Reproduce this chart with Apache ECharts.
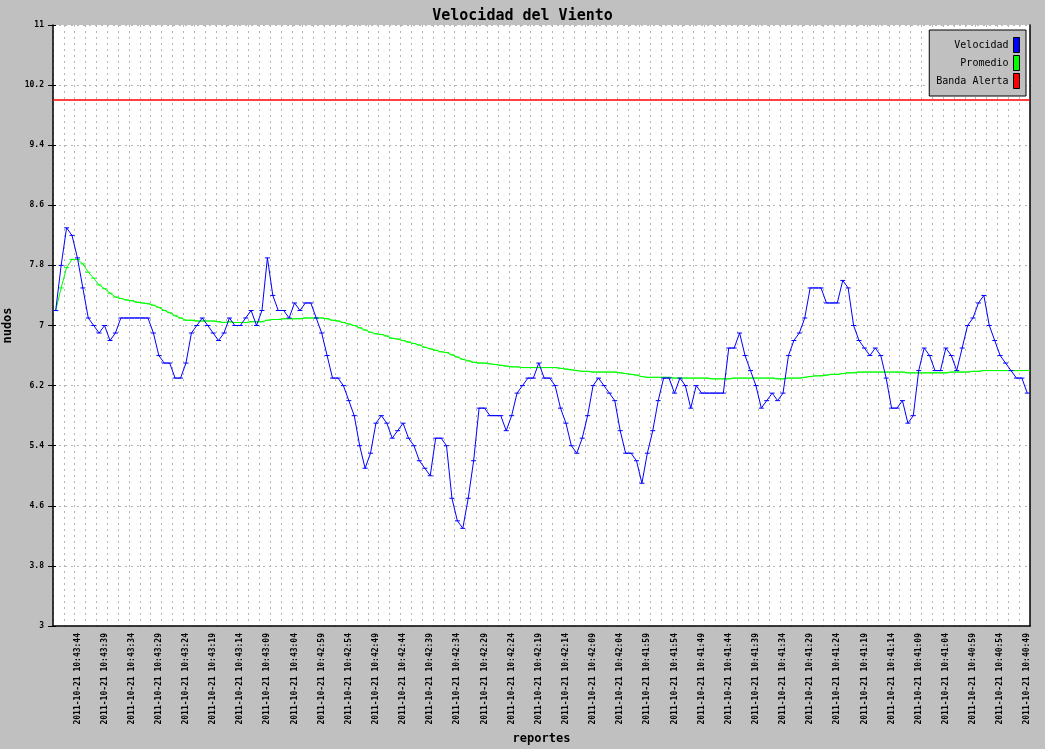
<!DOCTYPE html>
<html>
<head>
<meta charset="utf-8">
<script src="https://cdn.jsdelivr.net/npm/echarts@6/dist/echarts.min.js"></script>
<style>
html,body{margin:0;padding:0;background:#c0c0c0;}
#chart{width:1045px;height:749px;}
</style>
</head>
<body>
<div id="chart"></div>
<script>
// ---- data ----
const reportDate = '2011-10-21';
const reportTimes = [
'10:43:48','10:43:47','10:43:46','10:43:45','10:43:44','10:43:43','10:43:42','10:43:41','10:43:40','10:43:39',
'10:43:38','10:43:37','10:43:36','10:43:35','10:43:34','10:43:33','10:43:32','10:43:31','10:43:30','10:43:29',
'10:43:28','10:43:27','10:43:26','10:43:25','10:43:24','10:43:23','10:43:22','10:43:21','10:43:20','10:43:19',
'10:43:18','10:43:17','10:43:16','10:43:15','10:43:14','10:43:13','10:43:12','10:43:11','10:43:10','10:43:09',
'10:43:08','10:43:07','10:43:06','10:43:05','10:43:04','10:43:03','10:43:02','10:43:01','10:43:00',
'10:42:59','10:42:58','10:42:57','10:42:56','10:42:55','10:42:54','10:42:53','10:42:52','10:42:51','10:42:50',
'10:42:49','10:42:48','10:42:47','10:42:46','10:42:45','10:42:44','10:42:43','10:42:42','10:42:41','10:42:40',
'10:42:39','10:42:38','10:42:37','10:42:36','10:42:35','10:42:34','10:42:33','10:42:32','10:42:31','10:42:30',
'10:42:29','10:42:28','10:42:27','10:42:26','10:42:25','10:42:24','10:42:23','10:42:22','10:42:21','10:42:20',
'10:42:19','10:42:18','10:42:17','10:42:16','10:42:15','10:42:14','10:42:13','10:42:12','10:42:11','10:42:10',
'10:42:09','10:42:08','10:42:07','10:42:06','10:42:05','10:42:04','10:42:03','10:42:02','10:42:01','10:42:00',
'10:41:59','10:41:58','10:41:57','10:41:56','10:41:55','10:41:54','10:41:53','10:41:52','10:41:51','10:41:50',
'10:41:49','10:41:48','10:41:47','10:41:46','10:41:45','10:41:44','10:41:43','10:41:42','10:41:41','10:41:40',
'10:41:39','10:41:38','10:41:37','10:41:36','10:41:35','10:41:34','10:41:33','10:41:32','10:41:31','10:41:30',
'10:41:29','10:41:28','10:41:27','10:41:26','10:41:25','10:41:24','10:41:23','10:41:22','10:41:21','10:41:20',
'10:41:19','10:41:18','10:41:17','10:41:16','10:41:15','10:41:14','10:41:13','10:41:12','10:41:11','10:41:10',
'10:41:09','10:41:08','10:41:07','10:41:06','10:41:05','10:41:04','10:41:03','10:41:02','10:41:01','10:41:00',
'10:40:59','10:40:58','10:40:57','10:40:56','10:40:55','10:40:54','10:40:53','10:40:52','10:40:51','10:40:50',
'10:40:49'
];

const velocidad = [
7.2,7.8,8.3,8.2,7.9,7.5,7.1,7.0,6.9,7.0,
6.8,6.9,7.1,7.1,7.1,7.1,7.1,7.1,6.9,6.6,
6.5,6.5,6.3,6.3,6.5,6.9,7.0,7.1,7.0,6.9,
6.8,6.9,7.1,7.0,7.0,7.1,7.2,7.0,7.2,7.9,
7.4,7.2,7.2,7.1,7.3,7.2,7.3,7.3,7.1,6.9,
6.6,6.3,6.3,6.2,6.0,5.8,5.4,5.1,5.3,5.7,
5.8,5.7,5.5,5.6,5.7,5.5,5.4,5.2,5.1,5.0,
5.5,5.5,5.4,4.7,4.4,4.3,4.7,5.2,5.9,5.9,
5.8,5.8,5.8,5.6,5.8,6.1,6.2,6.3,6.3,6.5,
6.3,6.3,6.2,5.9,5.7,5.4,5.3,5.5,5.8,6.2,
6.3,6.2,6.1,6.0,5.6,5.3,5.3,5.2,4.9,5.3,
5.6,6.0,6.3,6.3,6.1,6.3,6.2,5.9,6.2,6.1,
6.1,6.1,6.1,6.1,6.7,6.7,6.9,6.6,6.4,6.2,
5.9,6.0,6.1,6.0,6.1,6.6,6.8,6.9,7.1,7.5,
7.5,7.5,7.3,7.3,7.3,7.6,7.5,7.0,6.8,6.7,
6.6,6.7,6.6,6.3,5.9,5.9,6.0,5.7,5.8,6.4,
6.7,6.6,6.4,6.4,6.7,6.6,6.4,6.7,7.0,7.1,
7.3,7.4,7.0,6.8,6.6,6.5,6.4,6.3,6.3,6.1
];

const promedio = [
7.20,7.50,7.77,7.88,7.88,7.82,7.71,7.63,7.54,7.49,
7.43,7.38,7.36,7.34,7.33,7.31,7.30,7.29,7.27,7.24,
7.20,7.17,7.13,7.10,7.07,7.07,7.06,7.06,7.06,7.06,
7.05,7.04,7.05,7.04,7.04,7.04,7.05,7.05,7.05,7.07,
7.08,7.08,7.09,7.09,7.09,7.09,7.10,7.10,7.10,7.10,
7.09,7.07,7.06,7.04,7.02,7.00,6.97,6.94,6.91,6.89,
6.88,6.86,6.83,6.82,6.80,6.78,6.76,6.74,6.71,6.69,
6.67,6.65,6.64,6.61,6.58,6.55,6.53,6.51,6.50,6.50,
6.49,6.48,6.47,6.46,6.45,6.45,6.44,6.44,6.44,6.44,
6.44,6.44,6.44,6.43,6.42,6.41,6.40,6.39,6.39,6.38,
6.38,6.38,6.38,6.38,6.37,6.36,6.35,6.34,6.32,6.31,
6.31,6.31,6.31,6.31,6.30,6.30,6.30,6.30,6.30,6.30,
6.30,6.29,6.29,6.29,6.29,6.30,6.30,6.30,6.30,6.30,
6.30,6.30,6.30,6.29,6.29,6.30,6.30,6.30,6.31,6.32,
6.33,6.33,6.34,6.35,6.35,6.36,6.37,6.37,6.38,6.38,
6.38,6.38,6.38,6.38,6.38,6.38,6.38,6.37,6.37,6.37,
6.37,6.37,6.37,6.37,6.37,6.38,6.38,6.38,6.38,6.39,
6.39,6.40,6.40,6.40,6.40,6.40,6.40,6.40,6.40,6.40
];

const alertThreshold = 10.0;
const yMin = 3, yMax = 11, yStep = 0.8;
const seriesNames = ['Velocidad', 'Promedio', 'Banda Alerta'];
const seriesColors = ['#0000ff', '#00ff00', '#ff0000'];

// ---- chart ----
const categories = reportTimes.map(t => reportDate + ' ' + t);
const FONT = "'DejaVu Sans Mono', monospace";
const GRID_LINE = {color: '#b4b4b4', width: 1, type: [2, 4]};
const chart = echarts.init(document.getElementById('chart'), null, {renderer: 'canvas'});

const valueAxisBase = {
  type: 'value', min: yMin, max: yMax, interval: yStep
};

chart.setOption({
  animation: false,
  backgroundColor: '#c0c0c0',
  title: {
    text: 'Velocidad del Viento',
    left: 'center', top: 4,
    textStyle: {fontFamily: FONT, fontWeight: 'bold', fontSize: 15, color: '#000'}
  },
  legend: {
    data: seriesNames,
    orient: 'vertical',
    align: 'right',
    right: 19, top: 30,
    padding: [7, 6, 7, 7],
    itemWidth: 6, itemHeight: 15, itemGap: 2,
    icon: 'rect',
    backgroundColor: '#c0c0c0',
    borderColor: '#000', borderWidth: 1,
    itemStyle: {borderColor: '#000', borderWidth: 1},
    formatter: name => name.padStart(12, ' '),
    textStyle: {fontFamily: FONT, fontSize: 10, color: '#000'},
    selectedMode: false
  },
  grid: {
    left: 53, right: 15, top: 25, bottom: 123,
    containLabel: false, outerBoundsMode: 'none',
    show: true, backgroundColor: '#ffffff', borderWidth: 0
  },
  xAxis: {
    type: 'category',
    data: categories,
    boundaryGap: true,
    name: 'reportes',
    nameLocation: 'middle',
    nameGap: 106,
    nameTextStyle: {fontFamily: FONT, fontWeight: 'bold', fontSize: 12, color: '#000'},
    axisLine: {show: true, lineStyle: {color: '#000', width: 1.5}},
    axisTick: {show: false},
    axisLabel: {
      rotate: 90,
      margin: 7,
      interval: (index) => (index - 4) % 5 === 0,
      fontFamily: FONT, fontWeight: 'bold', fontSize: 8, color: '#000'
    },
    splitLine: {show: true, interval: 1, lineStyle: GRID_LINE}
  },
  yAxis: [
    Object.assign({}, valueAxisBase, {
      position: 'left',
      name: 'nudos',
      nameLocation: 'middle',
      nameGap: 37,
      nameTextStyle: {fontFamily: FONT, fontWeight: 'bold', fontSize: 12, color: '#000'},
      axisLine: {show: true, lineStyle: {color: '#000', width: 1.5}},
      axisTick: {show: true, length: 5, lineStyle: {color: '#000', width: 1}},
      axisLabel: {margin: 9, fontFamily: FONT, fontWeight: 'bold', fontSize: 8, color: '#000'},
      splitLine: {show: true, lineStyle: GRID_LINE}
    }),
    Object.assign({}, valueAxisBase, {
      position: 'left',
      axisLine: {show: false},
      axisTick: {show: true, inside: true, length: 3, lineStyle: {color: '#000', width: 1}},
      axisLabel: {show: false},
      splitLine: {show: false}
    }),
    Object.assign({}, valueAxisBase, {
      position: 'right',
      axisLine: {show: true, lineStyle: {color: '#000', width: 1.5}},
      axisTick: {show: false},
      axisLabel: {show: false},
      splitLine: {show: false}
    })
  ],
  series: [
    {
      name: seriesNames[0], type: 'line', data: velocidad,
      color: seriesColors[0],
      symbol: 'rect', symbolSize: [5, 1], showSymbol: true, showAllSymbol: true,
      itemStyle: {color: seriesColors[0]},
      lineStyle: {color: seriesColors[0], width: 1},
      z: 4
    },
    {
      name: seriesNames[1], type: 'line', data: promedio,
      color: seriesColors[1],
      symbol: 'rect', symbolSize: [5, 1], showSymbol: true, showAllSymbol: true,
      itemStyle: {color: seriesColors[1]},
      lineStyle: {color: seriesColors[1], width: 1},
      z: 3
    },
    {
      name: seriesNames[2], type: 'line', data: [],
      color: seriesColors[2],
      itemStyle: {color: seriesColors[2]},
      lineStyle: {color: seriesColors[2], width: 1},
      markLine: {
        silent: true,
        symbol: ['none', 'none'],
        label: {show: false},
        lineStyle: {color: seriesColors[2], width: 1.5, type: 'solid'},
        data: [{yAxis: alertThreshold}]
      },
      z: 2
    }
  ]
});
</script>
</body>
</html>
